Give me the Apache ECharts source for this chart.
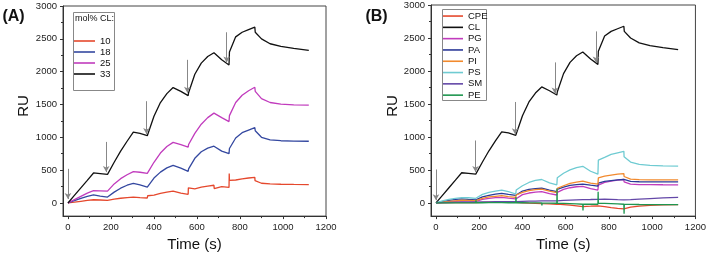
<!DOCTYPE html>
<html><head><meta charset="utf-8">
<script src="https://cdn.jsdelivr.net/npm/echarts@6/dist/echarts.min.js"></script>
<style>html,body{margin:0;padding:0;background:#fff}#c{width:709px;height:257px}</style>
</head><body><div id="c"></div>
<script>
// time (s)
const times = [0,30,60,90,119,120,121,150,184,185,186,215,245,275,304,305,306,335,369,370,371,400,430,460,489,490,491,525,559,560,561,590,620,650,679,680,681,715,749,750,751,780,810,840,869,870,871,900,940,990,1050,1120];
// Panel A: mol% CL (33 mol% CL is the same trace as CL in panel B)
const cl33 = [0,115,230,345,457,460,458,448,436,435,440,620,790,940,1078,1080,1078,1060,1025,1020,1035,1320,1530,1665,1758,1760,1755,1700,1635,1630,1680,1960,2130,2230,2288,2290,2280,2180,2100,2080,2300,2530,2600,2640,2678,2680,2600,2500,2425,2385,2355,2325];
const cl25 = [0,50,100,150,188,190,188,185,180,180,190,290,370,430,478,480,478,468,450,448,470,620,760,860,923,925,920,890,852,850,890,1060,1200,1300,1368,1370,1360,1300,1240,1235,1330,1530,1640,1710,1763,1765,1700,1590,1530,1505,1495,1490];
const cl18 = [0,35,70,100,124,125,124,105,90,90,95,165,225,270,298,300,298,275,240,238,260,380,470,535,574,575,570,530,482,480,520,680,780,835,864,865,860,790,752,750,830,990,1070,1110,1148,1150,1100,1000,960,948,943,940];
const cl10 = [0,12,25,38,49,50,48,45,40,40,42,60,72,82,89,90,86,82,76,75,110,120,145,165,180,175,168,150,132,230,200,215,240,258,270,220,250,248,236,450,345,350,368,380,390,340,320,300,290,285,282,280];
// Panel B: lipids
const cpe = [0,2,4,5,6,6,6,5,5,5,6,8,10,11,12,12,12,10,8,8,8,2,-4,-8,-12,-12,-12,-16,-20,-20,-15,-25,-35,-45,-55,-55,-55,-50,-45,-45,-40,-55,-70,-82,-90,-90,-88,-65,-48,-38,-30,-25];
const pg = [0,10,18,25,30,30,30,28,25,25,30,55,70,80,85,85,84,72,60,60,85,125,150,163,170,165,165,140,120,120,160,205,230,245,250,240,240,215,195,195,270,310,330,345,355,320,315,285,278,276,275,274];
const pa = [0,20,38,52,60,60,60,52,45,45,55,90,115,132,145,145,143,130,115,115,140,180,205,218,225,222,222,195,170,170,205,240,265,278,285,282,282,268,255,255,300,325,338,348,355,340,338,325,321,320,319,319];
const pi = [0,12,22,32,40,40,40,38,35,35,45,70,90,100,110,110,108,95,85,85,120,160,185,200,210,205,205,180,155,155,220,260,295,315,330,320,325,300,285,285,380,405,420,435,445,400,395,360,352,350,349,349];
const ps = [0,30,55,70,80,85,82,78,70,70,90,130,160,180,193,195,190,170,135,135,195,260,310,340,355,350,345,305,275,275,380,450,500,535,555,540,545,480,435,435,650,690,735,760,782,700,690,620,585,570,562,558];
const sm = [0,3,6,8,10,10,10,10,10,10,12,14,16,18,20,20,20,20,20,20,22,24,26,28,30,30,30,30,30,30,34,38,42,46,50,50,50,52,55,55,58,58,55,50,46,45,46,50,58,66,75,85];
const pe = [0,0,0,0,0,-20,0,0,0,40,2,2,3,3,3,-20,3,2,2,90,2,2,0,0,0,-40,-2,-2,-5,220,-5,-8,-12,-16,-20,-115,-20,-20,-20,170,-5,-8,-12,-16,-20,-165,-22,-22,-24,-25,-25,-25];
// injection arrows
const arrowTA = [0,178,365,555,738];
const arrowTopA = [520,930,1550,2180,2600];
const arrowBotA = [60,470,1050,1680,2140];
const arrowTB = [0,183,366,550,740];
const arrowTopB = [507,946,1530,2130,2600];
const arrowBotB = [40,470,1040,1660,2130];
// ticks
const xTicks = [0,200,400,600,800,1000,1200];
const xMinor = [100,300,500,700,900,1100];
const yTicks = [0,500,1000,1500,2000,2500,3000];
const yMinor = [250,750,1250,1750,2250,2750];
const namesA = ['10','18','25','33'];
const namesB = ['CPE','CL','PG','PA','PI','PS','SM','PE'];

const FONT = 'Liberation Sans, Arial, sans-serif';
const colA = ['#e5482d','#3448a0','#c13bbd','#111111'];
const colB = ['#e5482d','#111111','#c13bbd','#2c3a98','#f28a2e','#6fcbd2','#6448a8','#1f9650'];

function pts(v){ return times.map((t,i)=>[t,v[i]]); }
function arrows(T,top,bot){ return T.map((t,i)=>[{coord:[t,top[i]]},{coord:[t,bot[i]]}]); }
const plain = v => String(v);

function xAxes(g){
  return [
    {type:'value',gridIndex:g,min:-23,max:1200,position:'bottom',
     axisLine:{show:true,onZero:false,lineStyle:{color:'#333',width:1}},
     axisTick:{show:true,customValues:xTicks,length:3,lineStyle:{color:'#333'}},
     axisLabel:{customValues:xTicks,formatter:plain,fontSize:9.5,color:'#222',margin:6,fontFamily:FONT},
     splitLine:{show:false},
     name:'Time (s)',nameLocation:'middle',nameGap:19,
     nameTextStyle:{fontSize:15,color:'#111',fontFamily:FONT}},
    {type:'value',gridIndex:g,min:-23,max:1200,position:'bottom',
     axisLine:{show:false,onZero:false},
     axisTick:{show:true,customValues:xMinor,length:2,lineStyle:{color:'#333'}},
     axisLabel:{show:false},splitLine:{show:false}}
  ];
}
function yAxes(g){
  return [
    {type:'value',gridIndex:g,min:-200,max:3000,position:'left',
     axisLine:{show:true,onZero:false,lineStyle:{color:'#333',width:1}},
     axisTick:{show:true,customValues:yTicks,length:3,lineStyle:{color:'#333'}},
     axisLabel:{customValues:yTicks,formatter:plain,fontSize:9.5,color:'#222',margin:6,fontFamily:FONT},
     splitLine:{show:false}},
    {type:'value',gridIndex:g,min:-200,max:3000,position:'left',
     axisLine:{show:false,onZero:false},
     axisTick:{show:true,customValues:yMinor,length:2,lineStyle:{color:'#333'}},
     axisLabel:{show:false},splitLine:{show:false}}
  ];
}

const dataA = [cl10,cl18,cl25,cl33];
const dataB = [cpe,cl33,pg,pa,pi,ps,sm,pe];
const series = [];
namesA.forEach((n,i)=>{
  const s = {type:'line',name:n,xAxisIndex:0,yAxisIndex:0,data:pts(dataA[i]),symbol:'none',
    lineStyle:{width:1.3,color:colA[i]},itemStyle:{color:colA[i]},animation:false,z:2};
  if(n==='33') s.markLine = {silent:true,symbol:['none','arrow'],symbolSize:[5,6],
    lineStyle:{color:'#888',width:1,type:'solid'},label:{show:false},
    data:arrows(arrowTA,arrowTopA,arrowBotA),animation:false};
  series.push(s);
});
namesB.forEach((n,i)=>{
  const s = {type:'line',name:n,xAxisIndex:2,yAxisIndex:2,data:pts(dataB[i]),symbol:'none',
    lineStyle:{width:1.3,color:colB[i]},itemStyle:{color:colB[i]},animation:false,z:2};
  if(n==='CL') s.markLine = {silent:true,symbol:['none','arrow'],symbolSize:[5,6],
    lineStyle:{color:'#888',width:1,type:'solid'},label:{show:false},
    data:arrows(arrowTB,arrowTopB,arrowBotB),animation:false};
  series.push(s);
});

const chart = echarts.init(document.getElementById('c'),null,{renderer:'canvas'});
chart.setOption({
  backgroundColor:'#fff',
  animation:false,
  textStyle:{fontFamily:FONT},
  grid:[
    {left:63,top:6,width:263,height:213,show:true,borderColor:'#444',borderWidth:1,backgroundColor:'transparent'},
    {left:431,top:5,width:266,height:214,show:true,borderColor:'#444',borderWidth:1,backgroundColor:'transparent'}
  ],
  xAxis:[...xAxes(0),...xAxes(1)],
  yAxis:[...yAxes(0),...yAxes(1)],
  legend:[
    {data:namesA,orient:'vertical',left:74,top:35.5,padding:0,itemGap:0,icon:'rect',itemWidth:21,itemHeight:1.6,
     selectedMode:false,textStyle:{fontSize:9.5,lineHeight:11,color:'#111',fontFamily:FONT}},
    {data:namesB,orient:'vertical',left:443,top:10.4,padding:0,itemGap:0,icon:'rect',itemWidth:20,itemHeight:1.6,
     selectedMode:false,textStyle:{fontSize:9.5,lineHeight:11.3,color:'#111',fontFamily:FONT}}
  ],
  graphic:[
    {type:'rect',shape:{x:73.5,y:12.5,width:41,height:78},style:{fill:'none',stroke:'#888',lineWidth:1},z:0},
    {type:'rect',shape:{x:442.5,y:9.5,width:44,height:91},style:{fill:'none',stroke:'#888',lineWidth:1},z:0},
    {type:'text',x:75,y:19,style:{text:'mol% CL:',font:'9px '+FONT,fill:'#111',textAlign:'left',textVerticalAlign:'middle'}},
    {type:'text',x:13.5,y:16.5,style:{text:'(A)',font:'bold 16px '+FONT,fill:'#111',textAlign:'center',textVerticalAlign:'middle'}},
    {type:'text',x:376.5,y:16.5,style:{text:'(B)',font:'bold 16px '+FONT,fill:'#111',textAlign:'center',textVerticalAlign:'middle'}},
    {type:'text',x:24,y:106,rotation:Math.PI/2,style:{text:'RU',font:'15px '+FONT,fill:'#111',textAlign:'center',textVerticalAlign:'middle'}},
    {type:'text',x:392.5,y:106,rotation:Math.PI/2,style:{text:'RU',font:'15px '+FONT,fill:'#111',textAlign:'center',textVerticalAlign:'middle'}}
  ],
  series:series
});
</script></body></html>
